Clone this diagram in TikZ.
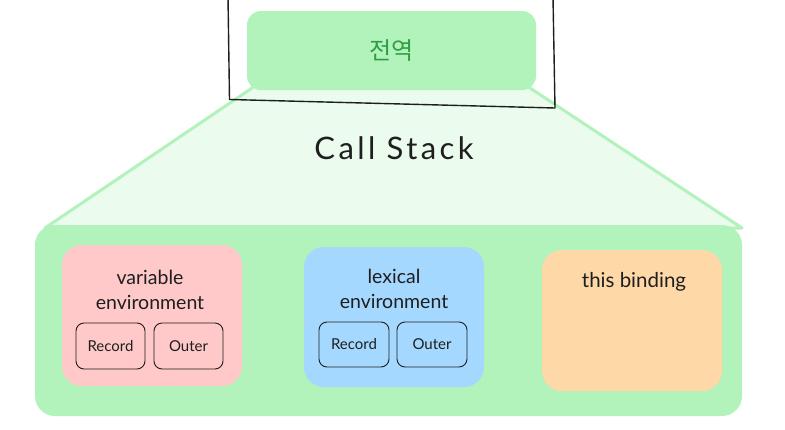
\documentclass[tikz,border=0pt]{standalone}
\usepackage{fontspec}
\setmainfont{Lato}
\newfontfamily\krfont{Noto Sans CJK KR}
\definecolor{gfill}{HTML}{B2F2BB}
\definecolor{glight}{HTML}{EBFBEE}
\definecolor{gtext}{HTML}{2F9E44}
\definecolor{pinkf}{HTML}{FFC9C9}
\definecolor{bluef}{HTML}{A5D8FF}
\definecolor{orangef}{HTML}{FFD8A8}
\definecolor{ink}{HTML}{1E1E1E}
\begin{document}
\begin{tikzpicture}[x=1pt,y=-1pt,
  panel/.style={rounded corners=20pt, inner sep=0pt, draw=none},
  slot/.style={draw=ink, line width=0.9pt, rounded corners=8pt, inner sep=0pt,
    minimum width=69pt, minimum height=46pt, text=ink, font=\fontsize{15}{17}\selectfont},
  title/.style={text=ink, align=center, font=\fontsize{19.5}{25}\selectfont}]
\useasboundingbox (0,0) rectangle (785,429);
% trapezoid
\filldraw[fill=glight, draw=gfill, line width=3pt, line join=round]
  (255,86) -- (527,86) -- (742,228) -- (45,228) -- cycle;
% big box
\node[panel, fill=gfill, minimum width=707pt, minimum height=191pt] (stack) at (388.5,320.5) {};
% global box
\node[panel, rounded corners=14pt, fill=gfill, minimum width=289pt, minimum height=79pt,
  text=gtext, font=\krfont\fontsize{24}{26}\selectfont] (global) at (391.5,50.5) {전역};
% frame
\draw[ink, line width=1.4pt, line join=round] (228,-3) -- (229.5,99.5) -- (555,108) -- (553,-3);
% Call Stack
\node[text=ink, font=\fontsize{31}{34}\selectfont\addfontfeature{LetterSpace=11}] (cs) at (394,148) {Call Stack};
% panels
\node[panel, fill=pinkf, minimum width=180pt, minimum height=141pt] (var) at (152,315.5) {};
\node[panel, fill=bluef, minimum width=180pt, minimum height=140pt] (lex) at (394,317) {};
\node[panel, fill=orangef, minimum width=180pt, minimum height=141pt] (this) at (632,320.5) {};
\node[title] (vart) at (150,289.5) {variable\\environment};
\node[title] (lext) at (394,288.5) {lexical\\environment};
\node[title, font=\fontsize{20.5}{25}\selectfont] (thist) at (634,282) {this binding};
\node[slot] (vrec) at (110.5,346) {Record};
\node[slot] (vout) at (188.5,346) {Outer};
\node[slot, minimum width=70pt, minimum height=45pt] (lrec) at (354,344.5) {Record};
\node[slot, minimum width=70pt, minimum height=45pt] (lout) at (432,344.5) {Outer};
\end{tikzpicture}
\end{document}
